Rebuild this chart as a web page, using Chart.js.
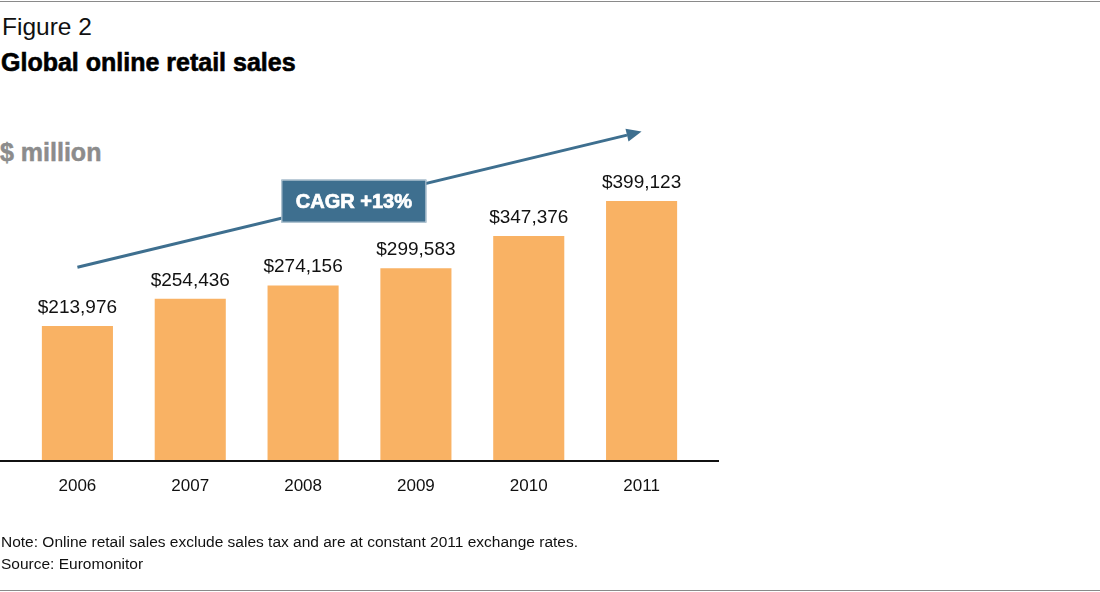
<!DOCTYPE html>
<html>
<head>
<meta charset="utf-8">
<script src="https://cdn.jsdelivr.net/npm/chart.js@4.4.1/dist/chart.umd.min.js"></script>
<style>
  html, body { margin:0; padding:0; background:#fff; }
  body { width:1100px; height:592px; position:relative; overflow:hidden; font-family:"Liberation Sans", Arial, sans-serif; }
  .t { position:absolute; white-space:nowrap; line-height:1; }
  #rtop { position:absolute; left:0; top:1px; width:1100px; height:1px; background:#8a8a8a; }
  #rbot { position:absolute; left:0; top:590px; width:1100px; height:1px; background:#8a8a8a; }
  #c { position:absolute; left:0; top:0; }
</style>
</head>
<body>
<div id="rtop"></div>
<div class="t" style="left:2px; top:15.3px; font-size:24.5px; color:#111;">Figure 2</div>
<div class="t" style="left:1px; top:49.5px; font-size:25px; font-weight:bold; color:#000; -webkit-text-stroke:0.6px #000;">Global online retail sales</div>
<div class="t" style="left:0px; top:139.5px; font-size:25px; font-weight:bold; color:#8c8c8c; -webkit-text-stroke:0.5px #8c8c8c;">$ million</div>
<canvas id="c" width="1100" height="592"></canvas>
<div class="t" style="left:1px; top:534px; font-size:15.5px; color:#111;">Note: Online retail sales exclude sales tax and are at constant 2011 exchange rates.</div>
<div class="t" style="left:1px; top:556px; font-size:15.5px; color:#111;">Source: Euromonitor</div>
<div id="rbot"></div>
<script>
const years = ['2006', '2007', '2008', '2009', '2010', '2011'];
const sales = [213976, 254436, 274156, 299583, 347376, 399123];
const valueLabels = ['$213,976', '$254,436', '$274,156', '$299,583', '$347,376', '$399,123'];
const cagrLabel = 'CAGR +13%';
// trend arrow annotation in data terms: [categoryIndex, value]
const arrowFrom = [0, 301000];
const arrowTo = [5, 502000];
const cagrBoxAt = [2.45, 399000];

const overlay = {
  id: 'overlay',
  afterDatasetsDraw(chart) {
    const ctx = chart.ctx;
    const x = chart.scales.x, y = chart.scales.y;
    const meta = chart.getDatasetMeta(0);
    // value labels
    ctx.save();
    ctx.font = '19px "Liberation Sans", Arial, sans-serif';
    ctx.fillStyle = '#111';
    ctx.textAlign = 'center';
    ctx.textBaseline = 'alphabetic';
    meta.data.forEach((bar, i) => {
      ctx.fillText(valueLabels[i], bar.x, bar.y - 13);
    });
    ctx.restore();
    // baseline
    const by = y.getPixelForValue(y.min);
    ctx.save();
    ctx.strokeStyle = '#111';
    ctx.lineWidth = 2;
    ctx.beginPath();
    ctx.moveTo(0, by);
    ctx.lineTo(719, by);
    ctx.stroke();
    ctx.restore();
    // arrow
    const x0 = x.getPixelForValue(arrowFrom[0]), y0 = y.getPixelForValue(arrowFrom[1]);
    const x1 = x.getPixelForValue(arrowTo[0]), y1 = y.getPixelForValue(arrowTo[1]);
    const ang = Math.atan2(y1 - y0, x1 - x0);
    const head = 15, hw = 6.5;
    const bx = x1 - head * Math.cos(ang), byy = y1 - head * Math.sin(ang);
    ctx.save();
    ctx.strokeStyle = '#3e6f8f';
    ctx.fillStyle = '#3e6f8f';
    ctx.lineWidth = 3;
    ctx.beginPath();
    ctx.moveTo(x0, y0);
    ctx.lineTo(bx, byy);
    ctx.stroke();
    ctx.beginPath();
    ctx.moveTo(x1, y1);
    ctx.lineTo(bx + hw * Math.sin(ang), byy - hw * Math.cos(ang));
    ctx.lineTo(bx - hw * Math.sin(ang), byy + hw * Math.cos(ang));
    ctx.closePath();
    ctx.fill();
    // CAGR box
    const cx = x.getPixelForValue(cagrBoxAt[0]), cy = y.getPixelForValue(cagrBoxAt[1]);
    const w = 145, h = 43;
    ctx.fillStyle = '#3e6f8f';
    ctx.fillRect(cx - w / 2, cy - h / 2, w, h);
    ctx.strokeStyle = '#c9d6df';
    ctx.lineWidth = 1;
    ctx.strokeRect(cx - w / 2 + 0.5, cy - h / 2 + 0.5, w - 1, h - 1);
    ctx.fillStyle = '#fff';
    ctx.strokeStyle = '#fff';
    ctx.lineWidth = 0.7;
    ctx.font = 'bold 20px "Liberation Sans", Arial, sans-serif';
    ctx.textAlign = 'center';
    ctx.textBaseline = 'middle';
    ctx.fillText(cagrLabel, cx, cy + 1);
    ctx.strokeText(cagrLabel, cx, cy + 1);
    ctx.restore();
  }
};

new Chart(document.getElementById('c'), {
  type: 'bar',
  data: {
    labels: years,
    datasets: [{
      data: sales,
      backgroundColor: '#f9b264',
      borderWidth: 0,
      categoryPercentage: 1,
      barPercentage: 0.63
    }]
  },
  options: {
    responsive: false,
    animation: false,
    events: [],
    layout: { padding: { left: 21, right: 402, top: 100, bottom: 91 } },
    plugins: { legend: { display: false }, tooltip: { enabled: false } },
    scales: {
      x: {
        grid: { display: false, drawTicks: false },
        border: { display: false },
        ticks: { color: '#111', font: { family: '"Liberation Sans", Arial, sans-serif', size: 17 }, padding: 15, maxRotation: 0 },
        afterFit(s) { s.height = 40; }
      },
      y: {
        display: false,
        min: 14000,
        max: 548800
      }
    }
  },
  plugins: [overlay]
});
</script>
</body>
</html>
